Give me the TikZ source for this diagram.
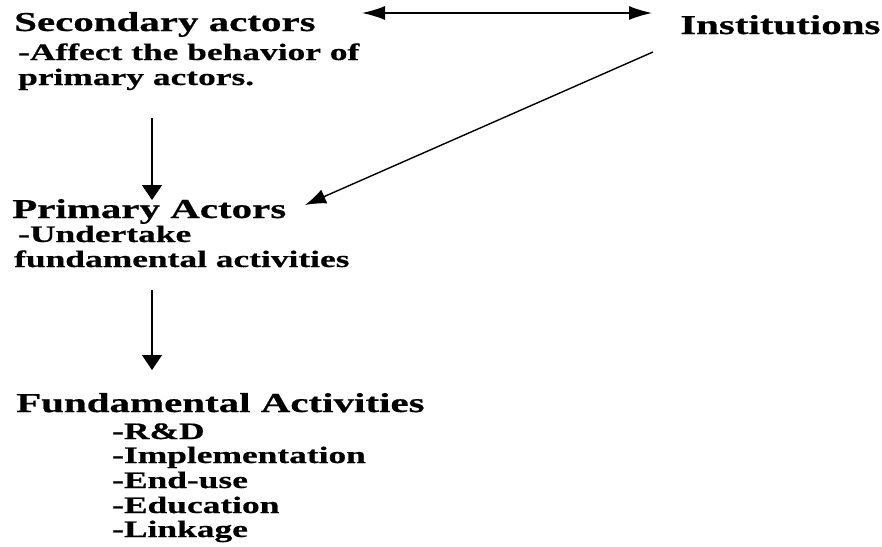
\documentclass[tikz,border=0pt]{standalone}
\usepackage{fontspec}
\setmainfont{Liberation Serif}[FakeStretch=1.5,FakeBold=0.6]
\usetikzlibrary{arrows.meta}
\begin{document}
\begin{tikzpicture}[x=1pt,y=-1pt,
  head/.style={font=\bfseries\fontsize{27.3}{30}\selectfont, anchor=base west, inner sep=0pt},
  sub/.style={font=\bfseries\fontsize{23.6}{26}\selectfont, anchor=base west, inner sep=0pt},
  arr/.style={line width=1.4pt, -{Triangle[length=15pt,width=20pt]}},
  darr/.style={line width=1.4pt, {Latex[length=23pt,width=14pt]}-{Latex[length=23pt,width=14pt]}},
  diag/.style={line width=1.4pt, -{Latex[length=21pt,width=15pt]}}]
\useasboundingbox (0,0) rectangle (882,546);
% texts
\node[head] (sec) at (14,31) {Secondary actors};
\node[sub] (sec1) at (18,60) {-Affect the behavior of};
\node[sub] (sec2) at (18,85) {primary actors.};
\node[head] (inst) at (680,34) {Institutions};
\node[head] (pri) at (12,218) {Primary Actors};
\node[sub] (pri1) at (18,242) {-Undertake};
\node[sub] (pri2) at (14,267) {fundamental activities};
\node[head] (fa) at (16,412) {Fundamental Activities};
\node[sub] (fa1) at (112,439) {-R\&D};
\node[sub] (fa2) at (112,463) {-Implementation};
\node[sub] (fa3) at (112,488) {-End-use};
\node[sub] (fa4) at (112,513) {-Education};
\node[sub] (fa5) at (112,537) {-Linkage};
% connector ends
\coordinate (secR) at (362,13);
\coordinate (instL) at (652,13);
\coordinate (instB) at (653,52);
\coordinate (priT) at (305,205);
\coordinate (secB) at (152,118);
\coordinate (priA) at (152,200);
\coordinate (priB) at (152,290);
\coordinate (faT) at (152,370);
% connectors
\draw[darr] (secR) -- (instL);
\draw[diag] (instB) -- (priT);
\draw[arr] (secB) -- (priA);
\draw[arr] (priB) -- (faT);
\end{tikzpicture}
\end{document}
